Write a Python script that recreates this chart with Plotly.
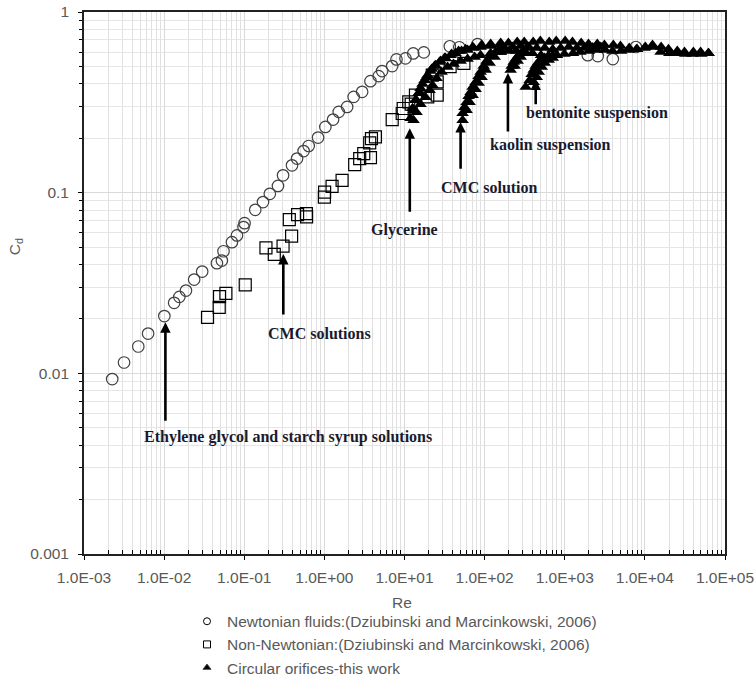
import plotly.graph_objects as go

# ---------------- data ----------------
newt_re = [0.00225, 0.00316, 0.00476, 0.00631, 0.01006, 0.01334, 0.01549, 0.01873, 0.0237, 0.02985,
           0.0456, 0.0526, 0.0551, 0.0702, 0.0811, 0.098, 0.1009, 0.1372, 0.1714, 0.2085,
           0.2637, 0.305, 0.3945, 0.456, 0.551, 0.637, 0.834, 1.029, 1.285, 1.51,
           1.923, 2.32, 2.96, 3.76, 4.77, 5.26, 7.02, 7.94, 10.29, 12.85,
           17.42, 36.8, 48.3, 81.7, 1939, 2585, 3981, 7718]
newt_cd = [0.0093, 0.01148, 0.01408, 0.0166, 0.02074, 0.02457, 0.0265, 0.0287, 0.03304, 0.0366,
           0.0407, 0.0421, 0.0474, 0.0532, 0.058, 0.0645, 0.0678, 0.0804, 0.0887, 0.0985,
           0.109, 0.1247, 0.1417, 0.1544, 0.170, 0.1813, 0.2018, 0.2311, 0.254, 0.280,
           0.2984, 0.339, 0.3614, 0.4143, 0.4416, 0.4708, 0.5018, 0.5466, 0.5537, 0.590,
           0.5977, 0.6461, 0.638, 0.6646, 0.577, 0.570, 0.5486, 0.64]

nonnewt_re = [0.0348, 0.0487, 0.0491, 0.059, 0.1029, 0.1866, 0.237, 0.305, 0.390, 0.365,
              0.463, 0.596, 0.60, 1.0, 1.007, 1.248, 1.664, 2.39, 2.76, 3.10,
              3.76, 3.68, 3.87, 4.34, 7.02, 9.36, 9.64, 12.13, 19.5, 25.6,
              25.6, 22.2, 37.1, 55.1, 13.7, 11.3]
nonnewt_cd = [0.0204, 0.0232, 0.0266, 0.0277, 0.0309, 0.0495, 0.0455, 0.0506, 0.0574, 0.0709,
              0.0755, 0.0765, 0.0734, 0.0945, 0.1008, 0.1084, 0.117, 0.143, 0.1544, 0.1646,
              0.1564, 0.1884, 0.1993, 0.2034, 0.254, 0.2743, 0.2924, 0.309, 0.339, 0.3465,
              0.4106, 0.447, 0.4983, 0.5194, 0.3465, 0.318]

# circular orifices - this work
glycerine_re = [11.9, 12.6, 13.7, 14.96, 15.85, 17.8, 19.4, 21.8, 24.4, 28.2, 32.5, 37.6, 43.4, 51.6,
                61.3, 72.9, 89.1, 118.9, 158.5,
                12.96, 14.13, 15.40, 16.79, 18.84, 21.13, 23.71, 27.38, 31.62, 38.7, 47.3, 57.9,
                70.8, 91.7, 118.9, 158.5,
                12.96, 14.13, 15.85, 18.30, 20.54, 22.39, 25.12, 29.0, 34.5, 41.0, 50.1, 61.3,
                75.0, 89.1, 118.9, 158.5]
glycerine_cd = [0.258, 0.2935, 0.325, 0.3554, 0.379, 0.4196, 0.447, 0.483, 0.508, 0.535, 0.556, 0.577,
                0.592, 0.608, 0.6155, 0.632, 0.640, 0.648, 0.656,
                0.286, 0.325, 0.360, 0.399, 0.436, 0.471, 0.502, 0.528, 0.556, 0.585, 0.608, 0.623,
                0.640, 0.656, 0.665, 0.673,
                0.252, 0.279, 0.309, 0.3377, 0.369, 0.3937, 0.4305, 0.465, 0.4955, 0.515, 0.535,
                0.549, 0.563, 0.577, 0.592, 0.600]

cmc_re = [53.1, 53.1, 56.2, 59.6, 63.1, 66.8, 70.8, 77.2, 84.1, 89.1, 97.2, 105.9, 118.9, 137.3, 158.5,
          59.6, 64.9, 70.8, 77.2, 84.1, 91.7, 102.9, 115.5, 133.4, 158.5]
cmc_cd = [0.252, 0.2754, 0.297, 0.317, 0.342, 0.360, 0.384, 0.409, 0.4416, 0.465, 0.502, 0.535, 0.570,
          0.600, 0.632,
          0.286, 0.317, 0.3465, 0.374, 0.404, 0.436, 0.477, 0.5215, 0.563, 0.600]

kaolin_re = [211.3, 217.6, 230.4, 244.1, 266.1, 298.5, 335.0, 237.1, 258.5, 281.8, 316.2]
kaolin_cd = [0.477, 0.502, 0.528, 0.549, 0.577, 0.608, 0.632, 0.502, 0.535, 0.563, 0.592]

bentonite_re = [325.4, 409.7, 365.2, 386.7, 409.7, 433.8, 459.7, 501.2, 562.3, 631.0, 707.9,
                446.7, 473.2, 515.9, 562.3, 631.0, 707.9]
bentonite_cd = [0.384, 0.409, 0.4196, 0.453, 0.477, 0.502, 0.5215, 0.542, 0.556, 0.570, 0.577,
                0.436, 0.465, 0.4955, 0.5215, 0.542, 0.556]

plateau_re = [160, 198, 255, 312, 404, 496, 640, 782, 1012, 1248, 1605, 1978, 2545, 3125, 4040,
              4960, 6380, 7850, 10150, 12450, 15950, 19700, 25400, 31200, 40300, 49600, 62500,
              157, 202, 248, 320, 395, 505, 625, 800, 990, 1270, 1570, 2010, 2490, 3190, 3950,
              5050, 6250, 8020, 9900, 12700, 15700, 20200, 24900, 32000, 39400, 50500, 61800,
              178, 224, 282, 355, 447, 562, 708, 891, 1122, 1413, 1778, 2239, 2818]
plateau_cd = [0.665, 0.673, 0.682, 0.682, 0.682, 0.691, 0.682, 0.691, 0.691, 0.682, 0.673, 0.665,
              0.665, 0.656, 0.656, 0.648, 0.632, 0.623, 0.640, 0.656, 0.640, 0.623, 0.608, 0.600,
              0.600, 0.600, 0.592,
              0.608, 0.608, 0.608, 0.600, 0.592, 0.577, 0.570, 0.577, 0.585, 0.592, 0.600, 0.608,
              0.616, 0.616, 0.608, 0.608, 0.616, 0.623, 0.632, 0.640, 0.600, 0.592, 0.592, 0.585,
              0.585, 0.585, 0.592,
              0.632, 0.640, 0.648, 0.640, 0.632, 0.632, 0.623, 0.632, 0.640, 0.632, 0.636, 0.636,
              0.640]

x_tick_vals = [1e-3, 1e-2, 1e-1, 1e0, 1e1, 1e2, 1e3, 1e4, 1e5]
x_tick_text = ["1.0E-03", "1.0E-02", "1.0E-01", "1.0E+00", "1.0E+01", "1.0E+02", "1.0E+03",
               "1.0E+04", "1.0E+05"]
y_tick_vals = [0.001, 0.01, 0.1, 1]
y_tick_text = ["0.001", "0.01", "0.1", "1"]

legend_names = ["Newtonian fluids:(Dziubinski and Marcinkowski, 2006)",
                "Non-Newtonian:(Dziubinski and Marcinkowski, 2006)",
                "Circular orifices-this work"]

# ---------------- figure ----------------
tri_re = glycerine_re + cmc_re + kaolin_re + bentonite_re + plateau_re
tri_cd = glycerine_cd + cmc_cd + kaolin_cd + bentonite_cd + plateau_cd

fig = go.Figure()
fig.add_trace(go.Scatter(x=newt_re, y=newt_cd, mode="markers", showlegend=False,
                         marker=dict(symbol="circle-open", size=11.5, color="#404040",
                                     line=dict(width=1.2))))
fig.add_trace(go.Scatter(x=tri_re, y=tri_cd, mode="markers", showlegend=False,
                         marker=dict(symbol="triangle-up", size=11, color="black")))
fig.add_trace(go.Scatter(x=nonnewt_re, y=nonnewt_cd, mode="markers", showlegend=False,
                         marker=dict(symbol="square-open", size=12, color="black",
                                     line=dict(width=1.2))))

# legend entries (small symbols as in the original)
legend_symbols = ["circle-open", "square-open", "triangle-up"]
for name, sym in zip(legend_names, legend_symbols):
    fig.add_trace(go.Scatter(x=[None], y=[None], mode="markers", name=name,
                             marker=dict(symbol=sym, size=7, color="black",
                                         line=dict(width=1))))

minor_x = [m * 10.0 ** e for e in range(-3, 5) for m in range(2, 10)]
minor_y = [m * 10.0 ** e for e in range(-3, 0) for m in range(2, 10)]

tick_font = dict(family="Arial, Liberation Sans, sans-serif", size=15.5, color="#595959")

fig.update_xaxes(type="log", range=[-3, 5], tickmode="array", tickvals=x_tick_vals,
                 ticktext=x_tick_text, tickfont=tick_font, ticks="outside", ticklen=4,
                 tickcolor="black", showgrid=True, gridcolor="#d9d9d9", gridwidth=1,
                 minor=dict(tickmode="array", tickvals=minor_x, ticks="inside", ticklen=4,
                            tickcolor="black", showgrid=True, gridcolor="#e0e0e0"),
                 showline=True, linecolor="#222222", linewidth=1.8, mirror=True,
                 zeroline=False, ticklabelstandoff=4, automargin=False,
                 ticklabeloverflow="allow")
fig.update_yaxes(type="log", range=[-3, 0], tickmode="array", tickvals=y_tick_vals,
                 ticktext=y_tick_text, tickfont=tick_font, ticks="outside", ticklen=4,
                 tickcolor="black", showgrid=True, gridcolor="#d9d9d9", gridwidth=1,
                 minor=dict(tickmode="array", tickvals=minor_y, ticks="outside", ticklen=3,
                            tickcolor="black", showgrid=True, gridcolor="#e6e6e6"),
                 showline=True, linecolor="#222222", linewidth=1.8, mirror=True,
                 zeroline=False, ticklabelstandoff=6, automargin=False,
                 ticklabeloverflow="allow")

ann_font = dict(family="Liberation Serif, Times New Roman, serif", size=16, color="#1a1a2e")
labels = [
    ("<b>Ethylene glycol and starch syrup solutions</b>", -2.271, -2.350),
    ("<b>CMC solutions</b>", -0.729, -1.782),
    ("<b>Glycerine</b>", 0.5625, -1.209),
    ("<b>CMC solution</b>", 1.429, -0.969),
    ("<b>kaolin suspension</b>", 2.041, -0.7377),
    ("<b>bentonite suspension</b>", 2.491, -0.5585),
]
annotations = []
for txt, lx, ly in labels:
    annotations.append(dict(text=txt, x=lx, y=ly, xref="x", yref="y", xanchor="left",
                            yanchor="middle", showarrow=False, font=ann_font))
arrows = [(-1.984, -1.7177, 100), (-0.5125, -1.3394, 62), (1.066, -0.6434, 85),
          (1.7, -0.6101, 48), (2.291, -0.3383, 60), (2.6375, -0.3744, 26)]
for ax_x, ax_y, length in arrows:
    annotations.append(dict(text="", x=ax_x, y=ax_y, xref="x", yref="y", showarrow=True,
                            ax=0, ay=length, arrowhead=2, arrowsize=0.8, arrowwidth=2.6,
                            arrowcolor="black", standoff=0))
annotations.append(dict(text="C<sub>d</sub>", x=-0.1076, y=0.566, xref="paper", yref="paper",
                        textangle=-90, showarrow=False, xanchor="center", yanchor="middle",
                        font=tick_font))
annotations.append(dict(text="Re", x=0.496, y=-0.0892, xref="paper", yref="paper",
                        showarrow=False, xanchor="center", yanchor="middle", font=tick_font))

fig.update_layout(width=755, height=682,
                  margin=dict(l=84, r=30, t=12, b=128, autoexpand=False),
                  plot_bgcolor="white", paper_bgcolor="white", annotations=annotations,
                  legend=dict(x=0.1607, y=-0.0935, xanchor="left", yanchor="top",
                              font=tick_font, bgcolor="rgba(0,0,0,0)", tracegroupgap=0,
                              itemwidth=30),
                  hovermode=False)

# remove the browser's default 8 px body margin so the figure fills the window
fig.write_html("out.html", config={"displayModeBar": False},
               post_script="document.body.style.margin='0';document.body.style.overflow='hidden';")
